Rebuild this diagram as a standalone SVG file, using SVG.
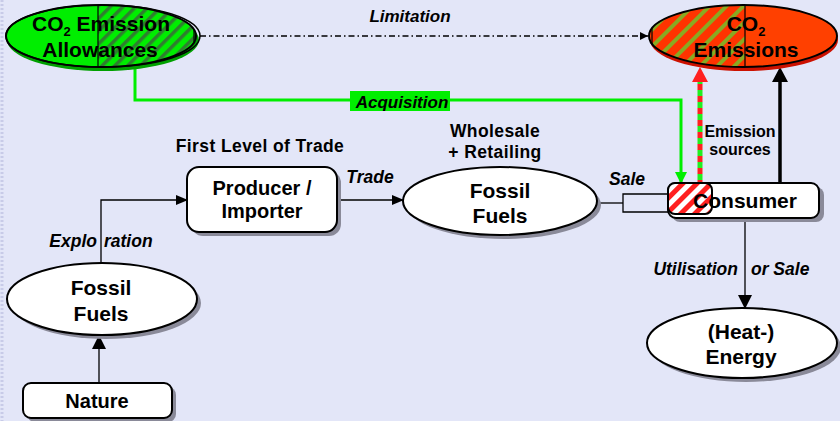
<svg xmlns="http://www.w3.org/2000/svg" width="840" height="421" viewBox="0 0 840 421">
<defs>
<style>
.t{font-family:"Liberation Sans",Arial,sans-serif;font-weight:bold;fill:#000;text-anchor:middle}
.big{font-size:21px}
.mid{font-size:20px}
.sm{font-size:17.5px;letter-spacing:0.4px}
.es{font-size:16px}
.it{font-style:italic;font-size:17.5px}
.box{fill:#fff;stroke:#000;stroke-width:2}
.sh{fill:#8a8a99}
.ln{fill:none;stroke:#000;stroke-width:1.3}
</style>
<pattern id="hg" width="9" height="9" patternUnits="userSpaceOnUse" patternTransform="rotate(45)">
<rect width="9" height="9" fill="#00ee00"/>
<rect width="3.5" height="9" fill="#2f7f2f"/>
</pattern>
<pattern id="hr" width="12" height="12" patternUnits="userSpaceOnUse" patternTransform="rotate(45)">
<rect width="12" height="12" fill="#ff3300"/>
<rect width="4" height="12" fill="#88aa22"/>
</pattern>
<pattern id="hw" width="10" height="10" patternUnits="userSpaceOnUse" patternTransform="rotate(45)">
<rect width="10" height="10" fill="#fff"/>
<rect width="5" height="10" fill="#ff2020"/>
</pattern>
<pattern id="rg" width="5" height="12" patternUnits="userSpaceOnUse">
<rect width="5" height="6" fill="#ff2020"/>
<rect y="6" width="5" height="6" fill="#20ee20"/>
</pattern>
<clipPath id="cg"><ellipse cx="101" cy="36" rx="95" ry="31"/></clipPath>
<clipPath id="cr"><ellipse cx="743" cy="36" rx="94" ry="31"/></clipPath>
<marker id="ab" markerWidth="12" markerHeight="10" refX="11" refY="5" orient="auto" markerUnits="userSpaceOnUse">
<path d="M0,0 L12,5 L0,10 Z" fill="#000"/>
</marker>
<marker id="abs" markerWidth="8" markerHeight="8" refX="8" refY="4" orient="auto" markerUnits="userSpaceOnUse">
<path d="M0,0 L8,4 L0,8 Z" fill="#000"/>
</marker>
<marker id="ag" markerWidth="12" markerHeight="12" refX="11" refY="6" orient="auto" markerUnits="userSpaceOnUse">
<path d="M0,0 L12,6 L0,12 Z" fill="#00ee00"/>
</marker>
<marker id="abk" markerWidth="14" markerHeight="14" refX="13" refY="7" orient="auto" markerUnits="userSpaceOnUse">
<path d="M0,0 L14,7 L0,14 Z" fill="#000"/>
</marker>
</defs>
<rect width="840" height="421" fill="#e3e6f8"/>
<line x1="2" y1="0" x2="2" y2="421" stroke="#c8cbe8" stroke-width="3" stroke-dasharray="2 2"/>

<g id="connectors">
<line class="ln" x1="200" y1="36" x2="648" y2="36" stroke-dasharray="6 3 1.5 3" marker-end="url(#abs)"/>
<text class="t it" x="410" y="22" style="font-size:17px">Limitation</text>
<polyline points="135,67 135,100 681,100 681,183" fill="none" stroke="#00ee00" stroke-width="3" marker-end="url(#ag)"/>
<rect x="350" y="91" width="100" height="20" fill="#00ee00"/>
<text class="t it" x="402" y="108" style="font-size:17px">Acquisition</text>
<rect x="697.5" y="80" width="5" height="103" fill="url(#rg)"/>
<path d="M692,82 L700,67 L708,82 Z" fill="#ff2020"/>
<line x1="780" y1="183" x2="780" y2="80" stroke="#000" stroke-width="3.5"/>
<path d="M772,82 L780,67 L788,82 Z" fill="#000"/>
<text class="t es" x="740" y="137">Emission</text>
<text class="t es" x="740" y="155">sources</text>
<line class="ln" x1="99" y1="383" x2="99" y2="336" stroke-width="2" marker-end="url(#abk)"/>
<polyline class="ln" points="101,263 101,200 187,200" marker-end="url(#ab)"/>
<text class="t it" y="247"><tspan x="97" style="text-anchor:end">Explo</tspan><tspan x="104" style="text-anchor:start">ration</tspan></text>
<line class="ln" x1="337" y1="200" x2="403" y2="200" marker-end="url(#ab)"/>
<text class="t it" x="370" y="183">Trade</text>
<polyline class="ln" points="597,203 623,203"/>
<polyline class="ln" points="681,194 623,194 623,212 744,212"/>
<line class="ln" x1="670" y1="194" x2="680" y2="194" marker-end="url(#abs)"/>
<line class="ln" x1="730" y1="212" x2="744" y2="212" marker-end="url(#abs)"/>
<text class="t it" x="627" y="185">Sale</text>
<line class="ln" x1="745" y1="218" x2="745" y2="308" stroke-width="2" marker-end="url(#abk)"/>
<text class="t it" x="738" y="275" style="text-anchor:end">Utilisation</text>
<text class="t it" x="751" y="275" style="text-anchor:start">or Sale</text>
</g>

<g id="allowances">
<ellipse cx="103" cy="40" rx="96" ry="31" fill="#00a000"/>
<ellipse cx="101" cy="36" rx="95" ry="31" fill="#00ee00"/>
<rect x="98" y="4" width="100" height="66" fill="url(#hg)" clip-path="url(#cg)"/>
<rect x="98" y="5" width="96" height="65" fill="none" stroke="#000" stroke-width="1.2" clip-path="url(#cg)"/>
<ellipse cx="101" cy="36" rx="95" ry="31" fill="none" stroke="#000" stroke-width="2"/>
<ellipse cx="103" cy="36" rx="97" ry="31" fill="none" stroke="#000" stroke-width="1.5"/>
<text class="t big" x="101" y="31">CO<tspan font-size="13" dy="5">2</tspan><tspan dy="-5"> Emission</tspan></text>
<text class="t big" x="100" y="57">Allowances</text>
</g>

<g id="emissions">
<ellipse cx="744" cy="40" rx="94" ry="31" fill="#cc1100"/>
<ellipse cx="743" cy="36" rx="94" ry="31" fill="#ff4000"/>
<rect x="652" y="4" width="93" height="66" fill="url(#hr)" clip-path="url(#cr)"/>
<rect x="652" y="5" width="93" height="65" fill="none" stroke="#000" stroke-width="1.2" clip-path="url(#cr)"/>
<ellipse cx="743" cy="36" rx="94" ry="31" fill="none" stroke="#000" stroke-width="2"/>
<text class="t big" x="746" y="31">CO<tspan font-size="13" dy="5">2</tspan></text>
<text class="t big" x="746" y="57">Emissions</text>
</g>

<g id="consumer">
<rect class="sh" x="672" y="187" width="152" height="35" rx="8"/>
<rect class="box" x="668" y="183" width="151" height="35" rx="8"/>
<rect x="668" y="183" width="44" height="31" rx="7" fill="url(#hw)" stroke="#000" stroke-width="2"/>
<text class="t big" x="745" y="208">Consumer</text>
</g>

<g id="wholesale-fuels">
<text class="t sm" x="495" y="137">Wholesale</text>
<text class="t sm" x="495" y="158">+ Retailing</text>
<ellipse class="sh" cx="504" cy="205" rx="97" ry="34"/>
<ellipse class="box" cx="500" cy="201" rx="97" ry="34"/>
<text class="t big" x="500" y="198">Fossil</text>
<text class="t big" x="500" y="223">Fuels</text>
</g>

<g id="producer">
<text class="t sm" x="260" y="152">First Level of Trade</text>
<rect class="sh" x="191" y="171" width="150" height="65" rx="12"/>
<rect class="box" x="187" y="167" width="150" height="65" rx="12"/>
<text class="t mid" x="262" y="195">Producer /</text>
<text class="t mid" x="262" y="218">Importer</text>
</g>

<g id="nature-fuels">
<ellipse class="sh" cx="106" cy="303" rx="95" ry="36"/>
<ellipse class="box" cx="102" cy="299" rx="95" ry="36"/>
<text class="t big" x="101" y="295">Fossil</text>
<text class="t big" x="101" y="321">Fuels</text>
</g>

<g id="nature">
<rect class="sh" x="27" y="387" width="149" height="35" rx="8"/>
<rect class="box" x="23" y="383" width="149" height="35" rx="8"/>
<text class="t mid" x="97" y="408">Nature</text>
</g>

<g id="heat-energy">
<ellipse class="sh" cx="746" cy="347" rx="95" ry="35"/>
<ellipse class="box" cx="742" cy="343" rx="95" ry="35"/>
<text class="t big" x="741" y="339">(Heat-)</text>
<text class="t big" x="741" y="364">Energy</text>
</g>
</svg>
